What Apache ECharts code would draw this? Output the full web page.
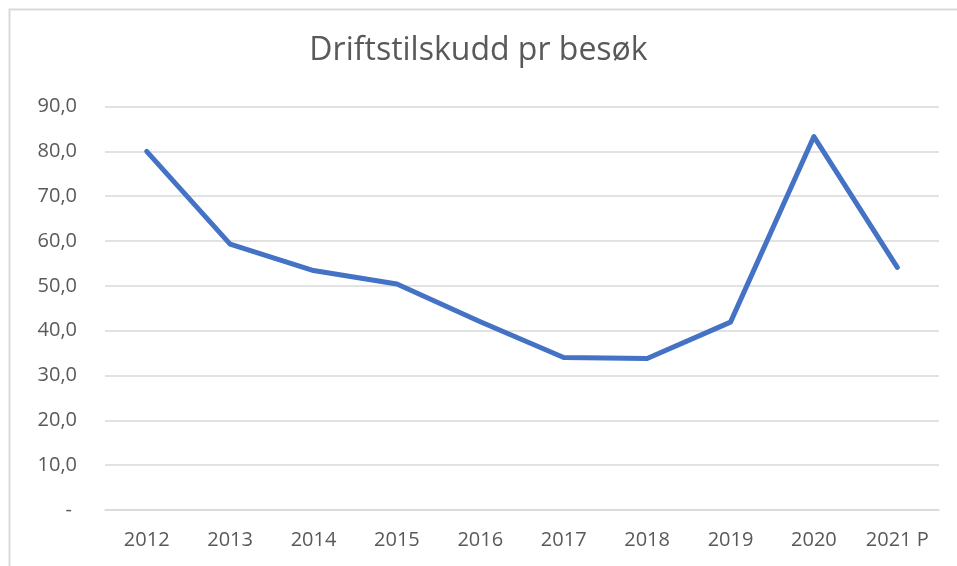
<!DOCTYPE html>
<html>
<head>
<meta charset="utf-8">
<script src="https://cdn.jsdelivr.net/npm/echarts@6/dist/echarts.min.js"></script>
<style>
html,body{margin:0;padding:0;background:#fff;}
#chart{width:957px;height:566px;}
</style>
</head>
<body>
<div id="chart"></div>
<script>
const titleText = 'Driftstilskudd pr besøk';
const categories = ['2012','2013','2014','2015','2016','2017','2018','2019','2020','2021 P'];
const values = [80.0, 59.3, 53.4, 50.4, 42.0, 34.0, 33.8, 41.9, 83.3, 54.1];
const yMin = 0, yMax = 90, yStep = 10;

const chart = echarts.init(document.getElementById('chart'), null, {renderer:'canvas'});
const font = '"Open Sans", "Noto Sans", sans-serif';
chart.setOption({
  animation:false,
  backgroundColor:'#ffffff',
  graphic:[{
    type:'rect', left:7, top:7, shape:{x:0,y:0,width:960,height:570},
    style:{fill:'none', stroke:'#d9d9d9', lineWidth:2}, silent:true, z:-1
  }],
  title:{
    text:titleText, left:'center', top:30,
    textStyle:{fontFamily:font, fontSize:32, fontWeight:'normal', color:'#595959'}
  },
  grid:{left:105, right:18, top:106.5, bottom:56, containLabel:false},
  xAxis:{
    type:'category', data:categories, boundaryGap:true,
    axisLine:{show:true, lineStyle:{color:'#d9d9d9', width:1.5}},
    axisTick:{show:false},
    axisLabel:{fontFamily:font, fontSize:20, color:'#595959', margin:20, interval:0}
  },
  yAxis:{
    type:'value', min:yMin, max:yMax, interval:yStep,
    axisLine:{show:false}, axisTick:{show:false},
    splitLine:{lineStyle:{color:'#d9d9d9', width:1.5}},
    axisLabel:{
      fontFamily:font, fontSize:20, color:'#595959', margin:28, align:'right',
      formatter:function(v){ return v===0 ? '{d|-}' : '{n|' + v.toFixed(1).replace('.',',') + '}'; },
      rich:{
        d:{fontFamily:font, fontSize:20, color:'#595959', padding:[0,5,0,0]},
        n:{fontFamily:font, fontSize:20, color:'#595959'}
      }
    }
  },
  series:[{
    type:'line', data:values, symbol:'none',
    lineStyle:{color:'#4472C4', width:5, cap:'round', join:'round'}
  }]
});
</script>
</body>
</html>
